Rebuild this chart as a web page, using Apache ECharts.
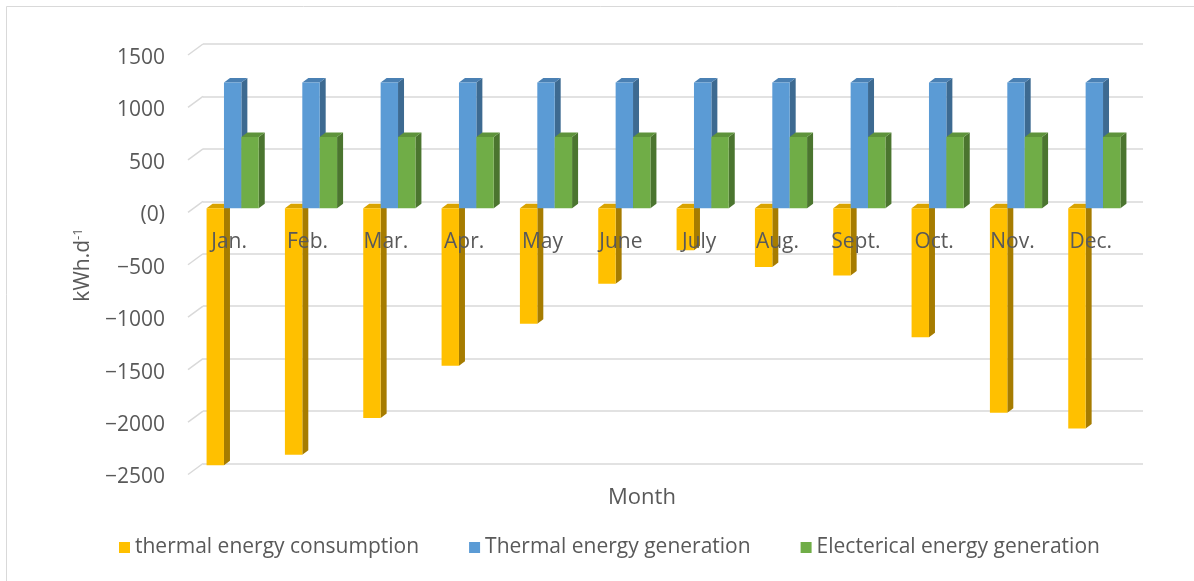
<!DOCTYPE html>
<html>
<head>
<meta charset="utf-8">
<script src="https://cdn.jsdelivr.net/npm/echarts@6/dist/echarts.min.js"></script>
<style>
  html, body { margin: 0; padding: 0; background: #fff; }
  #chart { width: 1194px; height: 581px; }
</style>
</head>
<body>
<div id="chart"></div>
<script>
// Monthly energy balance, kWh per day
const months = ['Jan.', 'Feb.', 'Mar.', 'Apr.', 'May', 'June', 'July', 'Aug.', 'Sept.', 'Oct.', 'Nov.', 'Dec.'];
const thermalConsumption = [-2450, -2350, -2000, -1500, -1100, -720, -400, -560, -640, -1230, -1950, -2100];
const thermalGeneration = [1200, 1200, 1200, 1200, 1200, 1200, 1200, 1200, 1200, 1200, 1200, 1200];
const electricalGeneration = [680, 680, 680, 680, 680, 680, 680, 680, 680, 680, 680, 680];
const yTicks = [-2500, -2000, -1500, -1000, -500, 0, 500, 1000, 1500];

const FONT = 'Open Sans';
const TEXT = '#595959';
const FS = 21;

// plane of the columns, shifted in front of the back wall
const PLANE_DX = -9.5, PLANE_DY = 7;
// depth of each column (side / top faces)
const DEPTH_X = 6, DEPTH_Y = -4.5;

function columnRenderer(slot, front, side, top) {
  return function (params, api) {
    const cat = api.value(0);
    const v = api.value(1);
    const base = api.coord([cat, 0]);
    const end = api.coord([cat, v]);
    const bw = api.size([1, 0])[0];
    const w = bw * 0.222;
    const x0 = base[0] + PLANE_DX + (slot - 1.5) * w;
    const x1 = x0 + w;
    const yA = Math.min(base[1], end[1]) + PLANE_DY;
    const yB = Math.max(base[1], end[1]) + PLANE_DY;
    return {
      type: 'group',
      children: [
        { type: 'polygon', shape: { points: [[x1, yA], [x1 + DEPTH_X, yA + DEPTH_Y], [x1 + DEPTH_X, yB + DEPTH_Y], [x1, yB]] }, style: { fill: side } },
        { type: 'polygon', shape: { points: [[x0, yA], [x1, yA], [x1 + DEPTH_X, yA + DEPTH_Y], [x0 + DEPTH_X, yA + DEPTH_Y]] }, style: { fill: top } },
        { type: 'rect', shape: { x: x0, y: yA, width: w, height: yB - yA }, style: { fill: front } }
      ]
    };
  };
}

function floorLines(params, api) {
  const v = api.value(0);
  const p = api.coord([0, v]);
  const x = params.coordSys.x;
  return {
    type: 'line',
    shape: { x1: x - 15, y1: p[1] + 11, x2: x, y2: p[1] },
    style: { stroke: '#d9d9d9', lineWidth: 1.5 }
  };
}

const chart = echarts.init(document.getElementById('chart'));
chart.setOption({
  backgroundColor: '#ffffff',
  animation: false,
  textStyle: { fontFamily: FONT, color: TEXT },
  grid: { left: 203, right: 51, top: 44, bottom: 117.5 },
  legend: {
    left: 114, top: 532,
    itemWidth: 11, itemHeight: 11, itemGap: 50,
    icon: 'rect',
    textStyle: { fontFamily: FONT, fontSize: FS, color: TEXT },
    data: ['thermal energy consumption', 'Thermal energy generation', 'Electerical energy generation']
  },
  xAxis: {
    type: 'category',
    data: months,
    position: 'bottom',
    // category labels sit just below the zero level of the floor, over the columns
    offset: -262.5,
    z: 10,
    axisLine: { show: false, onZero: false },
    axisTick: { show: false },
    axisLabel: { margin: 31, fontFamily: FONT, fontSize: FS, color: TEXT, padding: [0, 26, 0, 0] },
    splitLine: { show: false }
  },
  yAxis: {
    type: 'value',
    min: -2500, max: 1500, interval: 500,
    axisLine: { show: false },
    axisTick: { show: false },
    splitLine: { show: true, lineStyle: { color: '#d9d9d9', width: 1.5 } },
    axisLabel: {
      margin: 38,
      fontFamily: FONT, fontSize: FS, color: TEXT,
      verticalAlign: 'top', lineHeight: 28,
      formatter: function (v) {
        if (v === 0) return '(0)';
        return v < 0 ? '\u2212' + Math.abs(v) : String(v);
      }
    }
  },
  graphic: [
    { type: 'rect', shape: { x: 6.5, y: 6.5, width: 1200, height: 600 }, style: { fill: 'none', stroke: '#d9d9d9', lineWidth: 1 }, silent: true },
    {
      type: 'text', x: 83, y: 265, rotation: Math.PI / 2,
      style: {
        text: '{a|kWh.d}{s|-1}',
        align: 'center', verticalAlign: 'middle',
        rich: {
          a: { fontFamily: FONT, fontSize: FS, fill: TEXT, color: TEXT },
          s: { fontFamily: FONT, fontSize: 13, fill: TEXT, color: TEXT, verticalAlign: 'top', padding: [0, 0, 9, 0] }
        }
      }
    },
    {
      type: 'text', x: 642, y: 498,
      style: { text: 'Month', fontFamily: FONT, fontSize: 22, fill: TEXT, align: 'center', verticalAlign: 'middle' }
    }
  ],
  series: [
    {
      type: 'custom', name: 'floor', silent: true, clip: false, z: 1,
      data: yTicks.map(v => [v]),
      renderItem: floorLines
    },
    {
      type: 'custom', name: 'thermal energy consumption', clip: false, z: 3,
      itemStyle: { color: '#ffc000' },
      data: thermalConsumption.map((v, i) => [i, v]),
      renderItem: columnRenderer(0, '#ffc000', '#a67c00', '#d9a300')
    },
    {
      type: 'custom', name: 'Thermal energy generation', clip: false, z: 3,
      itemStyle: { color: '#5b9bd5' },
      data: thermalGeneration.map((v, i) => [i, v]),
      renderItem: columnRenderer(1, '#5b9bd5', '#3d6a91', '#4a80b3')
    },
    {
      type: 'custom', name: 'Electerical energy generation', clip: false, z: 3,
      itemStyle: { color: '#70ad47' },
      data: electricalGeneration.map((v, i) => [i, v]),
      renderItem: columnRenderer(2, '#70ad47', '#4b752f', '#5e933b')
    }
  ]
});
</script>
</body>
</html>
